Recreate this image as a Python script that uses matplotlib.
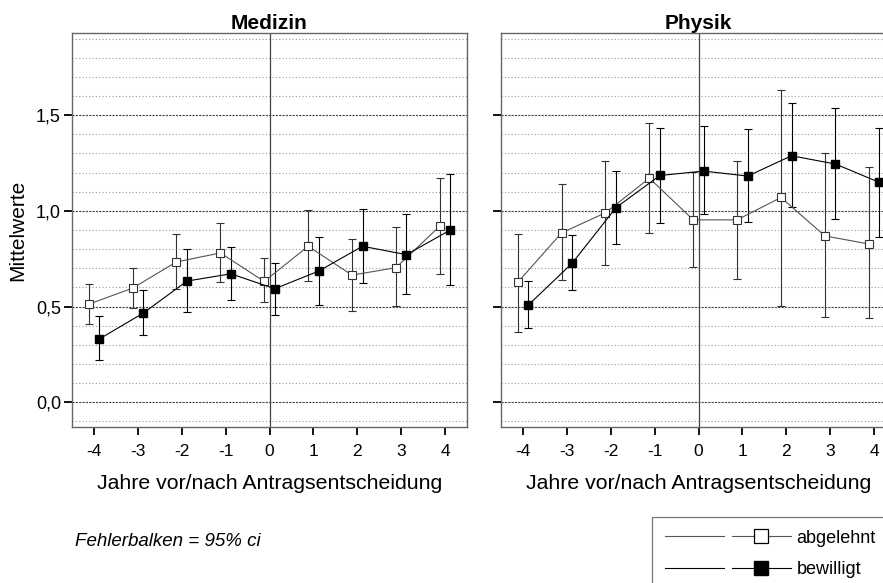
import numpy as np
import matplotlib.pyplot as plt
from matplotlib.lines import Line2D
from matplotlib.legend_handler import HandlerTuple

plt.rcParams['font.family'] = ['Liberation Sans', 'DejaVu Sans']

jahre = [-4, -3, -2, -1, 0, 1, 2, 3, 4]

# Medizin
med_abg = [0.512, 0.596, 0.733, 0.780, 0.631, 0.815, 0.664, 0.703, 0.920]
med_abg_lo = [0.411, 0.493, 0.594, 0.628, 0.523, 0.631, 0.476, 0.502, 0.670]
med_abg_hi = [0.617, 0.701, 0.879, 0.937, 0.753, 1.003, 0.855, 0.916, 1.171]
med_bew = [0.330, 0.465, 0.633, 0.671, 0.593, 0.685, 0.815, 0.771, 0.900]
med_bew_lo = [0.219, 0.351, 0.470, 0.535, 0.458, 0.507, 0.622, 0.565, 0.610]
med_bew_hi = [0.449, 0.584, 0.801, 0.813, 0.729, 0.864, 1.010, 0.983, 1.194]

# Physik
phy_abg = [0.626, 0.885, 0.990, 1.171, 0.953, 0.953, 1.070, 0.869, 0.827]
phy_abg_lo = [0.369, 0.636, 0.719, 0.885, 0.705, 0.645, 0.502, 0.446, 0.441]
phy_abg_hi = [0.879, 1.142, 1.260, 1.460, 1.201, 1.260, 1.633, 1.301, 1.231]
phy_bew = [0.507, 0.726, 1.017, 1.185, 1.208, 1.182, 1.288, 1.245, 1.149]
phy_bew_lo = [0.388, 0.586, 0.827, 0.937, 0.983, 0.941, 1.019, 0.958, 0.865]
phy_bew_hi = [0.635, 0.872, 1.210, 1.434, 1.444, 1.427, 1.566, 1.538, 1.434]

ytick_labels = ['0,0', '0,5', '1,0', '1,5']

fig = plt.figure(figsize=(8.83, 5.83), dpi=100)
ax1 = fig.add_axes([72 / 883, 1 - 427 / 583, 395 / 883, 394 / 583])
ax2 = fig.add_axes([501 / 883, 1 - 427 / 583, 395 / 883, 394 / 583])

panels = [
    (ax1, 'Medizin', med_abg, med_abg_lo, med_abg_hi, med_bew, med_bew_lo, med_bew_hi),
    (ax2, 'Physik', phy_abg, phy_abg_lo, phy_abg_hi, phy_bew, phy_bew_lo, phy_bew_hi),
]

x = np.array(jahre, dtype=float)
d = 0.12
for ax, titel, abg, abg_lo, abg_hi, bew, bew_lo, bew_hi in panels:
    abg = np.array(abg)
    bew = np.array(bew)
    # Hilfslinien alle 0,1, kraeftiger alle 0,5
    for g in np.arange(-0.1, 1.95, 0.1):
        major = abs(g * 2 - round(g * 2)) < 1e-6
        if major:
            ax.axhline(g, color='#444444', lw=0.8, ls=(0, (2, 1)), zorder=0)
        else:
            ax.axhline(g, color='#999999', lw=0.8, ls=(0, (1, 2)), zorder=0)
    ax.axvline(0, color='#444444', lw=0.9, zorder=1)

    ax.errorbar(x - d, abg, yerr=[abg - np.array(abg_lo), np.array(abg_hi) - abg],
                fmt='none', ecolor='#333333', elinewidth=0.8, capsize=3, capthick=0.8, zorder=2)
    ax.errorbar(x + d, bew, yerr=[bew - np.array(bew_lo), np.array(bew_hi) - bew],
                fmt='none', ecolor='black', elinewidth=0.8, capsize=3, capthick=0.8, zorder=2)
    ax.plot(x - d, abg, color='#555555', lw=0.8, marker='s', ms=6,
            mfc='white', mec='#333333', mew=0.8, zorder=3)
    ax.plot(x + d, bew, color='black', lw=0.8, marker='s', ms=6.3,
            mfc='black', mec='black', zorder=4)

    ax.set_xlim(-4.5, 4.5)
    ax.set_ylim(-0.13, 1.93)
    ax.set_xticks(jahre)
    ax.set_xticklabels([str(j) for j in jahre], fontsize=12.5)
    ax.set_yticks([0.0, 0.5, 1.0, 1.5])
    ax.tick_params(direction='out', length=6, width=1.3, color='black')
    ax.tick_params(axis='x', pad=6)
    ax.tick_params(axis='y', pad=2)
    for s in ax.spines.values():
        s.set_color('#666666')
        s.set_linewidth(1.0)
    ax.set_title(titel, fontsize=15, fontweight='bold', pad=3)
    ax.set_xlabel('Jahre vor/nach Antragsentscheidung', fontsize=15.3, labelpad=11)

ax1.set_yticklabels(ytick_labels, fontsize=13)
ax2.set_yticklabels([])
ax1.set_ylabel('Mittelwerte', fontsize=15, labelpad=6)

fig.text(75 / 883, 1 - 542 / 583, 'Fehlerbalken = 95% ci', fontsize=13.5, style='italic',
         va='center', ha='left')

h_abg = (Line2D([], [], color='#555555', lw=0.8),
         Line2D([], [], color='#555555', lw=0.8, marker='s', ms=10.5, mfc='white', mec='black', mew=0.9))
h_bew = (Line2D([], [], color='black', lw=0.8),
         Line2D([], [], color='black', lw=0.8, marker='s', ms=10.5, mfc='black', mec='black'))
leg = fig.legend([h_abg, h_bew], ['abgelehnt', 'bewilligt'],
                 handler_map={tuple: HandlerTuple(ndivide=None, pad=0.44)},
                 loc='upper left', bbox_to_anchor=(652 / 883, 1 - 517 / 583),
                 bbox_transform=fig.transFigure, fontsize=13, handlelength=7,
                 frameon=True, fancybox=False, borderaxespad=0, borderpad=0.7,
                 labelspacing=0.8, handletextpad=0.3)
leg.get_frame().set_edgecolor('#555555')
leg.get_frame().set_linewidth(0.9)

fig.savefig('out.png', dpi=100)
